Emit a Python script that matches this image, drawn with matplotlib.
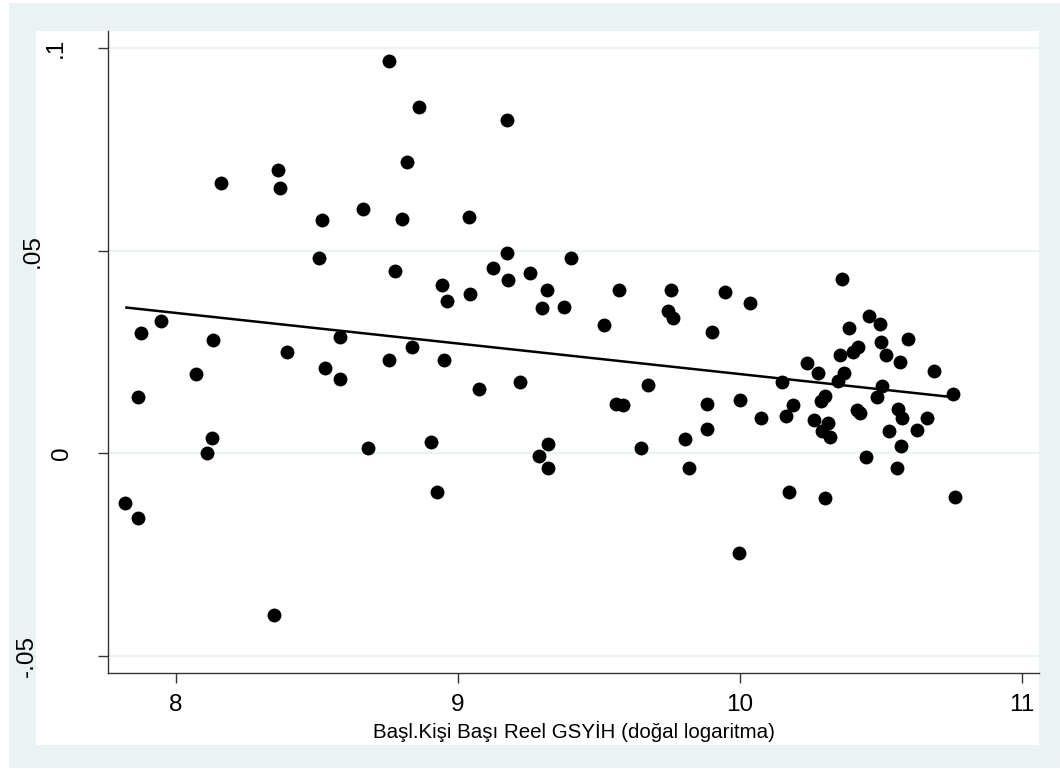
import matplotlib
matplotlib.use("Agg")
import matplotlib.pyplot as plt
from matplotlib.patches import Rectangle

plt.rcParams['font.family'] = ['Liberation Sans', 'DejaVu Sans']

# ---- data ----
gdp_log = [
    8.756, 8.863, 8.820, 8.364, 8.160, 8.370, 8.665, 8.517, 8.801, 8.507,
    8.777, 7.949, 7.876, 8.131, 8.393, 8.583, 8.839, 8.756, 8.073, 8.528,
    8.584, 7.865, 8.129, 8.112, 8.683, 8.907, 7.821, 7.867, 8.348, 9.175,
    9.039, 9.176, 9.402, 9.124, 9.179, 9.255, 8.945, 8.963, 9.042, 9.318,
    9.298, 9.376, 9.573, 9.518, 9.755, 9.747, 9.765, 9.946, 9.903, 8.951,
    10.038, 10.362, 10.460, 10.498, 10.387, 10.502, 10.596, 10.418, 10.403, 10.356,
    10.519, 10.569, 10.238, 10.690, 10.277, 10.368, 10.348, 10.151, 10.506, 10.755,
    10.486, 10.304, 10.289, 10.001, 10.188, 10.416, 10.425, 10.562, 10.577, 10.074,
    10.165, 10.263, 10.664, 10.312, 10.292, 10.320, 10.530, 10.630, 10.570, 10.448,
    10.557, 10.176, 10.301, 10.764, 9.998, 9.077, 9.222, 9.561, 9.587, 9.673,
    9.885, 9.885, 9.806, 9.820, 9.649, 8.925, 9.320, 9.289, 9.320,
]
growth = [
    0.0969, 0.0854, 0.0719, 0.0698, 0.0667, 0.0655, 0.0603, 0.0576, 0.0578, 0.0481,
    0.0449, 0.0327, 0.0296, 0.0279, 0.0251, 0.0286, 0.0263, 0.0230, 0.0195, 0.0211,
    0.0183, 0.0140, 0.0039, 0.0002, 0.0014, 0.0028, -0.0123, -0.0160, -0.0398, 0.0823,
    0.0582, 0.0494, 0.0482, 0.0458, 0.0428, 0.0445, 0.0415, 0.0375, 0.0393, 0.0402,
    0.0358, 0.0362, 0.0403, 0.0317, 0.0402, 0.0350, 0.0333, 0.0397, 0.0300, 0.0231,
    0.0372, 0.0431, 0.0339, 0.0319, 0.0310, 0.0274, 0.0282, 0.0263, 0.0251, 0.0243,
    0.0242, 0.0226, 0.0224, 0.0204, 0.0198, 0.0198, 0.0179, 0.0177, 0.0166, 0.0147,
    0.0140, 0.0142, 0.0128, 0.0131, 0.0119, 0.0108, 0.0100, 0.0109, 0.0087, 0.0087,
    0.0091, 0.0082, 0.0086, 0.0074, 0.0054, 0.0040, 0.0054, 0.0058, 0.0018, -0.0008,
    -0.0037, -0.0095, -0.0111, -0.0107, -0.0247, 0.0159, 0.0175, 0.0122, 0.0119, 0.0169,
    0.0121, 0.0059, 0.0035, -0.0037, 0.0014, -0.0095, 0.0023, -0.0007, -0.0037,
]
fit_x = [7.821, 10.764]
fit_y = [0.0360, 0.0138]

x_ticks = [8, 9, 10, 11]
x_tick_labels = ["8", "9", "10", "11"]
y_ticks = [-0.05, 0, 0.05, 0.1]
y_tick_labels = ["-.05", "0", ".05", ".1"]
x_title = "Başl.Kişi Başı Reel GSYİH (doğal logaritma)"

# ---- figure ----
W, H = 1060, 769
fig = plt.figure(figsize=(W / 100, H / 100), dpi=100)
fig.patch.set_facecolor("white")
bg = "#EAF2F3"

def fx(px):
    return px / W

def fy(py):
    return 1 - py / H

fig.patches.append(Rectangle((fx(9), fy(768)), fx(1060) - fx(9), fy(3) - fy(768),
                             transform=fig.transFigure, facecolor=bg, edgecolor="none", zorder=-3))
fig.patches.append(Rectangle((fx(36), fy(745)), fx(1039) - fx(36), fy(31) - fy(745),
                             transform=fig.transFigure, facecolor="white", edgecolor="none", zorder=-2))

ax_l, ax_r, ax_t, ax_b = 108, 1039, 31, 673
ax = fig.add_axes([fx(ax_l), fy(ax_b), fx(ax_r) - fx(ax_l), fy(ax_t) - fy(ax_b)])
ax.set_facecolor("white")

ax.set_xlim(7.76, 11.061)
ax.set_ylim(-0.05419, 0.1042)

for yt in y_ticks:
    ax.axhline(yt, color=bg, lw=1.6, zorder=1)

ax.scatter(gdp_log, growth, s=100, color="black", linewidths=0, zorder=3)
ax.plot(fit_x, fit_y, color="black", lw=1.8, zorder=4, solid_capstyle="butt")

for side in ["top", "right"]:
    ax.spines[side].set_visible(False)
for side in ["left", "bottom"]:
    ax.spines[side].set_color("#333333")
    ax.spines[side].set_linewidth(1.0)

ax.set_xticks(x_ticks)
ax.set_xticklabels(x_tick_labels, fontsize=17.5)
ax.tick_params(axis="x", length=7.2, width=1.0, color="#333333", pad=8)
ax.set_yticks(y_ticks)
ax.set_yticklabels([""] * len(y_ticks))
ax.tick_params(axis="y", length=7.2, width=1.0, color="#333333")

# rotated y tick labels (positions follow the reference)
label_cx = [27, 62, 32.5, 56]
for yt, lab, cx in zip(y_ticks, y_tick_labels, label_cx):
    ax.text((cx - ax_l) / (ax_r - ax_l), yt, lab, transform=ax.get_yaxis_transform(),
            rotation=90, ha="center", va="center", fontsize=17.5, clip_on=False)

fig.text(fx(574), fy(731), x_title, ha="center", va="center", fontsize=14.75)

fig.savefig("out.png", dpi=100)
